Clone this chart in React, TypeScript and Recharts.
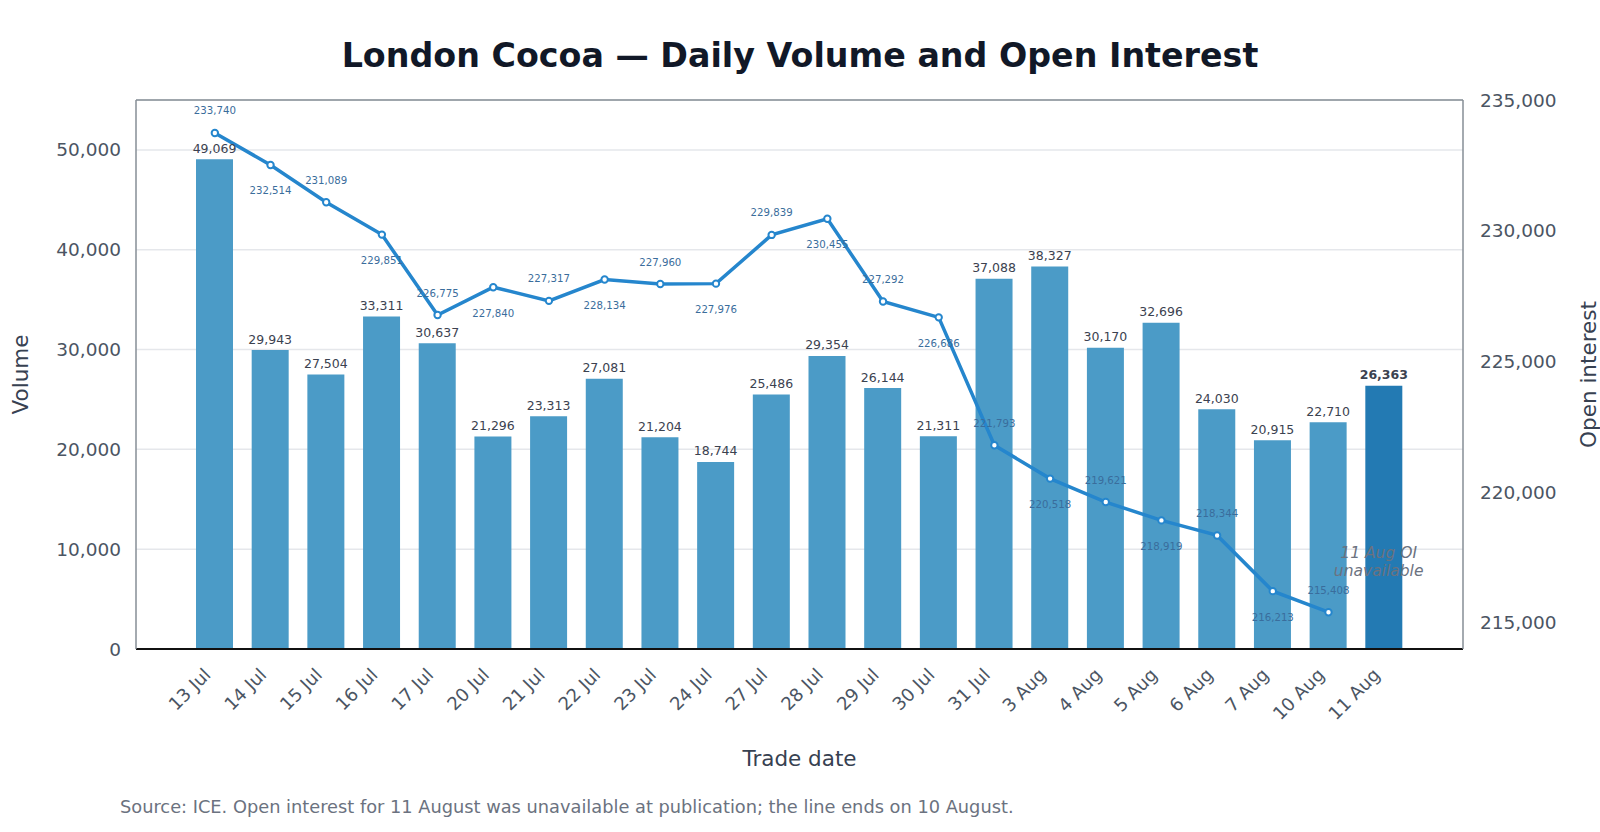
import {
  ComposedChart,
  Bar,
  Line,
  XAxis,
  YAxis,
  CartesianGrid,
  Cell,
  LabelList,
  ReferenceLine,
  ReferenceDot,
} from 'recharts';

// ── Data ────────────────────────────────────────────────────────────────
const TRADE_DATES = [
  '13 Jul', '14 Jul', '15 Jul', '16 Jul', '17 Jul', '20 Jul', '21 Jul', '22 Jul',
  '23 Jul', '24 Jul', '27 Jul', '28 Jul', '29 Jul', '30 Jul', '31 Jul', '3 Aug',
  '4 Aug', '5 Aug', '6 Aug', '7 Aug', '10 Aug', '11 Aug',
];

const VOLUME = [
  49069, 29943, 27504, 33311, 30637, 21296, 23313, 27081, 21204, 18744, 25486,
  29354, 26144, 21311, 37088, 38327, 30170, 32696, 24030, 20915, 22710, 26363,
];

// 11 Aug open interest was not published
const OPEN_INTEREST: (number | null)[] = [
  233740, 232514, 231089, 229851, 226775, 227840, 227317, 228134, 227960, 227976,
  229839, 230455, 227292, 226686, 221793, 220518, 219621, 218919, 218344, 216213,
  215408, null,
];

const VOLUME_TICKS = [0, 10000, 20000, 30000, 40000, 50000];
const OI_TICKS = [215000, 220000, 225000, 230000, 235000];

const FONT = '"DejaVu Sans", "Liberation Sans", sans-serif';
const BAR_COLOR = '#4b9bc7';
const LAST_BAR_COLOR = '#237ab3';
const LINE_COLOR = '#2586cd';
const TICK_COLOR = '#4b5563';
const FRAME_COLOR = '#868e96';

const fmt = (v: number) => v.toLocaleString('en-US');

const data = TRADE_DATES.map((date, i) => ({
  date,
  volume: VOLUME[i],
  oi: OPEN_INTEREST[i],
}));

const lastIndex = TRADE_DATES.length - 1;

function DateTick({ x, y, payload }: any) {
  return (
    <g transform={`translate(${x - 3},${y + 27})`}>
      <text
        x={0}
        y={0}
        textAnchor="end"
        transform="rotate(-45)"
        fontSize={18}
        fontFamily={FONT}
        fill={TICK_COLOR}
      >
        {payload.value}
      </text>
    </g>
  );
}

function BarValueLabel({ x, y, width, value, index }: any) {
  const isLast = index === lastIndex;
  return (
    <text
      x={x + width / 2}
      y={y - 11}
      textAnchor="middle"
      dominantBaseline="central"
      fontSize={12.5}
      fontWeight={isLast ? 'bold' : 'normal'}
      fontFamily={FONT}
      fill="#3b4250"
    >
      {fmt(value)}
    </text>
  );
}

// labels alternate above / below the points so they do not collide
function OiValueLabel({ x, y, value, index }: any) {
  if (value == null) return null;
  const above = index % 2 === 0;
  return (
    <text
      x={x}
      y={above ? y - 22 : y + 26}
      textAnchor="middle"
      dominantBaseline="central"
      fontSize={10.2}
      fontFamily={FONT}
      fill="#3a6d9c"
    >
      {fmt(value)}
    </text>
  );
}

function LeftAxisTitle({ viewBox }: any) {
  const cx = viewBox.x + 20;
  const cy = viewBox.y + viewBox.height / 2;
  return (
    <text
      x={cx}
      y={cy}
      transform={`rotate(-90, ${cx}, ${cy})`}
      textAnchor="middle"
      dominantBaseline="central"
      fontSize={21.5}
      fontFamily={FONT}
      fill="#374151"
    >
      Volume
    </text>
  );
}

function RightAxisTitle({ viewBox }: any) {
  const cx = viewBox.x + 125;
  const cy = viewBox.y + viewBox.height / 2;
  return (
    <text
      x={cx}
      y={cy}
      transform={`rotate(-90, ${cx}, ${cy})`}
      textAnchor="middle"
      dominantBaseline="central"
      fontSize={21.5}
      fontFamily={FONT}
      fill="#374151"
    >
      Open interest
    </text>
  );
}

function BottomAxisTitle({ viewBox }: any) {
  return (
    <text
      x={viewBox.x + viewBox.width / 2}
      y={viewBox.y + 109}
      textAnchor="middle"
      dominantBaseline="central"
      fontSize={21.5}
      fontFamily={FONT}
      fill="#374151"
    >
      Trade date
    </text>
  );
}

function MissingNote({ cx, cy }: any) {
  const x = cx - 5.5;
  return (
    <text
      x={x}
      y={cy}
      textAnchor="middle"
      fontSize={15.5}
      fontStyle="italic"
      fontFamily={FONT}
      fill="#6b7280"
    >
      <tspan x={x} dy={-3}>11 Aug OI</tspan>
      <tspan x={x} dy={18}>unavailable</tspan>
    </text>
  );
}

export default function App() {
  return (
    <div
      style={{
        position: 'absolute',
        left: 0,
        top: 0,
        width: 1600,
        height: 832,
        overflow: 'hidden',
        fontFamily: FONT,
        background: '#ffffff',
      }}
    >
      <div
        style={{
          position: 'absolute',
          left: 0,
          width: 1600,
          top: 37,
          textAlign: 'center',
          fontSize: 33.3,
          fontWeight: 'bold',
          color: '#111827',
          lineHeight: '38px',
        }}
      >
        London Cocoa — Daily Volume and Open Interest
      </div>

      <ComposedChart
        width={1600}
        height={832}
        data={data}
        margin={{ top: 100, right: 0, left: 0, bottom: 53 }}
      >
        <CartesianGrid vertical={false} stroke="#e5e7eb" strokeWidth={1.5} yAxisId="vol" />
        <XAxis
          dataKey="date"
          padding={{ left: 51, right: 51 }}
          height={130}
          interval={0}
          tick={<DateTick />}
          tickSize={0}
          tickMargin={0}
          axisLine={{ stroke: '#111111', strokeWidth: 2 }}
          label={<BottomAxisTitle />}
        />
        <YAxis
          yAxisId="vol"
          orientation="left"
          width={136}
          domain={[0, 55000]}
          ticks={VOLUME_TICKS}
          tickFormatter={fmt}
          tick={{ fontSize: 18.5, fill: TICK_COLOR, fontFamily: FONT }}
          tickSize={0}
          tickMargin={15}
          axisLine={{ stroke: FRAME_COLOR, strokeWidth: 1.5 }}
          label={<LeftAxisTitle />}
        />
        <YAxis
          yAxisId="oi"
          orientation="right"
          width={137}
          domain={[214000, 235000]}
          ticks={OI_TICKS}
          tickFormatter={fmt}
          tick={{ fontSize: 18.5, fill: TICK_COLOR, fontFamily: FONT, textAnchor: 'start' }}
          tickSize={0}
          tickMargin={17}
          axisLine={{ stroke: FRAME_COLOR, strokeWidth: 1.5 }}
          label={<RightAxisTitle />}
        />
        {/* top edge of the plot frame */}
        <ReferenceLine yAxisId="vol" y={55000} stroke={FRAME_COLOR} strokeWidth={1.5} />

        <Bar yAxisId="vol" dataKey="volume" barSize={37} isAnimationActive={false}>
          {data.map((_, i) => (
            <Cell key={`bar-${i}`} fill={i === lastIndex ? LAST_BAR_COLOR : BAR_COLOR} />
          ))}
          <LabelList dataKey="volume" content={<BarValueLabel />} />
        </Bar>

        <Line
          yAxisId="oi"
          dataKey="oi"
          stroke={LINE_COLOR}
          strokeWidth={3.5}
          dot={{ r: 3.2, fill: '#ffffff', stroke: LINE_COLOR, strokeWidth: 2 }}
          activeDot={false}
          connectNulls={false}
          isAnimationActive={false}
        >
          <LabelList dataKey="oi" content={<OiValueLabel />} />
        </Line>

        <ReferenceDot
          yAxisId="oi"
          x="11 Aug"
          y={217366}
          r={0}
          fill="none"
          stroke="none"
          shape={<MissingNote />}
        />
      </ComposedChart>

      <div
        style={{
          position: 'absolute',
          left: 120,
          top: 796,
          fontSize: 17.8,
          color: '#6b7280',
          lineHeight: '22px',
          whiteSpace: 'nowrap',
        }}
      >
        Source: ICE. Open interest for 11 August was unavailable at publication; the line ends on 10 August.
      </div>
    </div>
  );
}
